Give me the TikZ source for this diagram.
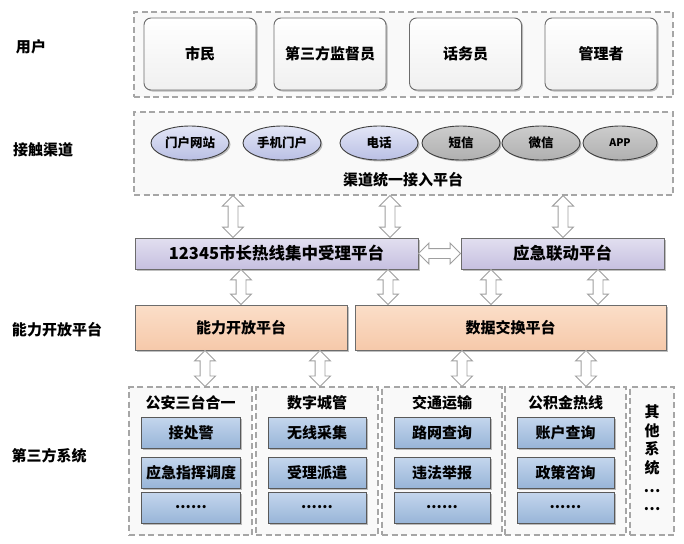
\documentclass[tikz,border=0pt]{standalone}
\usepackage{fontspec}
\setmainfont{Noto Sans CJK SC}
\usetikzlibrary{shapes.geometric,shapes.arrows,shadows,calc}
\newcommand\vdarrow[3]{\path let \p1=(#2.south), \p2=(#3.north) in node[dbl, rotate=90, minimum height={(\y1)-(\y2)}] at (#1,{0.5*(\y1+\y2)}) {};}
\begin{document}
\begin{tikzpicture}[x=1pt,y=1pt,
  font=\fontsize{15}{18}\selectfont\bfseries,
  shad/.style={drop shadow={shadow xshift=1.5pt, shadow yshift=-1.5pt, opacity=0.25, fill=black}},
  dashbox/.style={draw=gray!70, line width=1.2pt, dash pattern=on 6pt off 3.5pt, fill=gray!5, inner sep=0pt},
  userbox/.style={draw=gray!85!black, line width=0.9pt, rounded corners=7pt, top color=white, bottom color=gray!12, minimum width=112pt, minimum height=72pt, shad},
  chanb/.style={ellipse, draw=black!75, line width=0.9pt, top color={rgb,255:red,226;green,229;blue,246}, bottom color={rgb,255:red,186;green,192;blue,228}, minimum width=78pt, minimum height=34pt, inner sep=0pt, font=\fontsize{12.5}{14}\selectfont\bfseries, shad},
  chang/.style={ellipse, draw=black!75, line width=0.9pt, top color=gray!40, bottom color=gray!62, minimum width=78pt, minimum height=34pt, inner sep=0pt, font=\fontsize{12.5}{14}\selectfont\bfseries, shad},
  purp/.style={rectangle, draw=gray!85!black, line width=0.9pt, top color={rgb,255:red,226;green,223;blue,240}, bottom color={rgb,255:red,198;green,192;blue,224}, minimum height=31pt, inner sep=0pt, font=\fontsize{16.5}{19}\selectfont\bfseries, shad},
  orng/.style={rectangle, draw=gray!85!black, line width=0.9pt, top color={rgb,255:red,251;green,222;blue,200}, bottom color={rgb,255:red,246;green,201;blue,170}, minimum height=45pt, inner sep=0pt, shad},
  bluebox/.style={rectangle, draw=black!65, line width=0.9pt, top color={rgb,255:red,196;green,214;blue,237}, bottom color={rgb,255:red,152;green,181;blue,216}, minimum height=31pt, inner sep=0pt, shad},
  lbl/.style={font=\fontsize{15}{18}\selectfont\bfseries},
  dbl/.style={double arrow, draw=gray!75, fill=white, line width=0.9pt, inner sep=4.5pt, double arrow head extend=5.5pt, minimum width=1pt}
]
\useasboundingbox (0,0) rectangle (684,-543);

% left labels
\node[lbl] (lu) at (31,-47) {用户};
\node[lbl] (lc) at (43,-150) {接触渠道};
\node[lbl] (la) at (57,-330) {能力开放平台};
\node[lbl] (lt) at (49,-456) {第三方系统};

% users
\node[dashbox, minimum width=539pt, minimum height=85pt] (users) at (403.5,-54.5) {};
\node[userbox] (u1) at (200,-54) {市民};
\node[userbox] (u2) at (330,-54) {第三方监督员};
\node[userbox] (u3) at (465.5,-54) {话务员};
\node[userbox] (u4) at (601,-54) {管理者};

% channels
\node[dashbox, minimum width=539pt, minimum height=83pt] (chan) at (403.5,-153.5) {};
\node[chanb] (c1) at (190,-143) {门户网站};
\node[chanb] (c2) at (282,-143) {手机门户};
\node[chanb] (c3) at (379,-143) {电话};
\node[chang] (c4) at (461,-143) {短信};
\node[chang] (c5) at (541,-143) {微信};
\node[chang, minimum width=74pt, font=\fontsize{10.5}{12}\selectfont\bfseries] (c6) at (620,-143) {APP};
\node (ct) at (403,-180) {渠道统一接入平台};

% platforms
\node[purp, minimum width=283pt] (p1) at (276.5,-253.5) {12345市长热线集中受理平台};
\node[purp, minimum width=203pt] (yj) at (562.5,-253.5) {应急联动平台};
\node[orng, minimum width=212pt] (nl) at (241,-327.5) {能力开放平台};
\node[orng, minimum width=311pt] (sj) at (510.5,-327.5) {数据交换平台};

% third-party groups
\node[dashbox, minimum width=123pt, minimum height=148pt] (g1) at (190.5,-461) {};
\node[dashbox, minimum width=122pt, minimum height=148pt] (g2) at (317,-461) {};
\node[dashbox, minimum width=120pt, minimum height=148pt] (g3) at (442,-461) {};
\node[dashbox, minimum width=121pt, minimum height=148pt] (g4) at (565.5,-461) {};
\node[dashbox, minimum width=44pt, minimum height=148pt] (g5) at (652,-461) {};

\node (t1) at (190.5,-403) {公安三台合一};
\node (t2) at (317,-403) {数字城管};
\node (t3) at (442,-403) {交通运输};
\node (t4) at (565.5,-403) {公积金热线};

\node[bluebox, minimum width=99pt] (b11) at (191,-432.5) {接处警};
\node[bluebox, minimum width=99pt] (b12) at (191,-472.5) {应急指挥调度};
\node[bluebox, minimum width=99pt] (b13) at (191,-507.5) {......};
\node[bluebox, minimum width=98pt] (b21) at (317,-432.5) {无线采集};
\node[bluebox, minimum width=98pt] (b22) at (317,-472.5) {受理派遣};
\node[bluebox, minimum width=98pt] (b23) at (317,-507.5) {......};
\node[bluebox, minimum width=96pt] (b31) at (442,-432.5) {路网查询};
\node[bluebox, minimum width=96pt] (b32) at (442,-472.5) {违法举报};
\node[bluebox, minimum width=96pt] (b33) at (442,-507.5) {......};
\node[bluebox, minimum width=97pt] (b41) at (565.5,-432.5) {账户查询};
\node[bluebox, minimum width=97pt] (b42) at (565.5,-472.5) {政策咨询};
\node[bluebox, minimum width=97pt] (b43) at (565.5,-507.5) {......};

\node[align=center, font=\fontsize{15}{18.6}\selectfont\bfseries] (o5) at (652,-458) {其\\他\\系\\统\\…\\…};

% arrows
\vdarrow{233}{chan}{p1}
\vdarrow{390}{chan}{p1}
\vdarrow{563}{chan}{yj}
\vdarrow{241}{p1}{nl}
\vdarrow{388}{p1}{sj}
\vdarrow{491}{yj}{sj}
\vdarrow{598}{yj}{sj}
\vdarrow{205}{nl}{g1}
\vdarrow{320}{nl}{g2}
\vdarrow{462}{sj}{g3}
\vdarrow{586}{sj}{g4}
\path let \p1=(p1.east), \p2=(yj.west) in node[dbl, minimum height={(\x2)-(\x1)}] (h1) at ({0.5*(\x1+\x2)},\y1) {};
\end{tikzpicture}
\end{document}
